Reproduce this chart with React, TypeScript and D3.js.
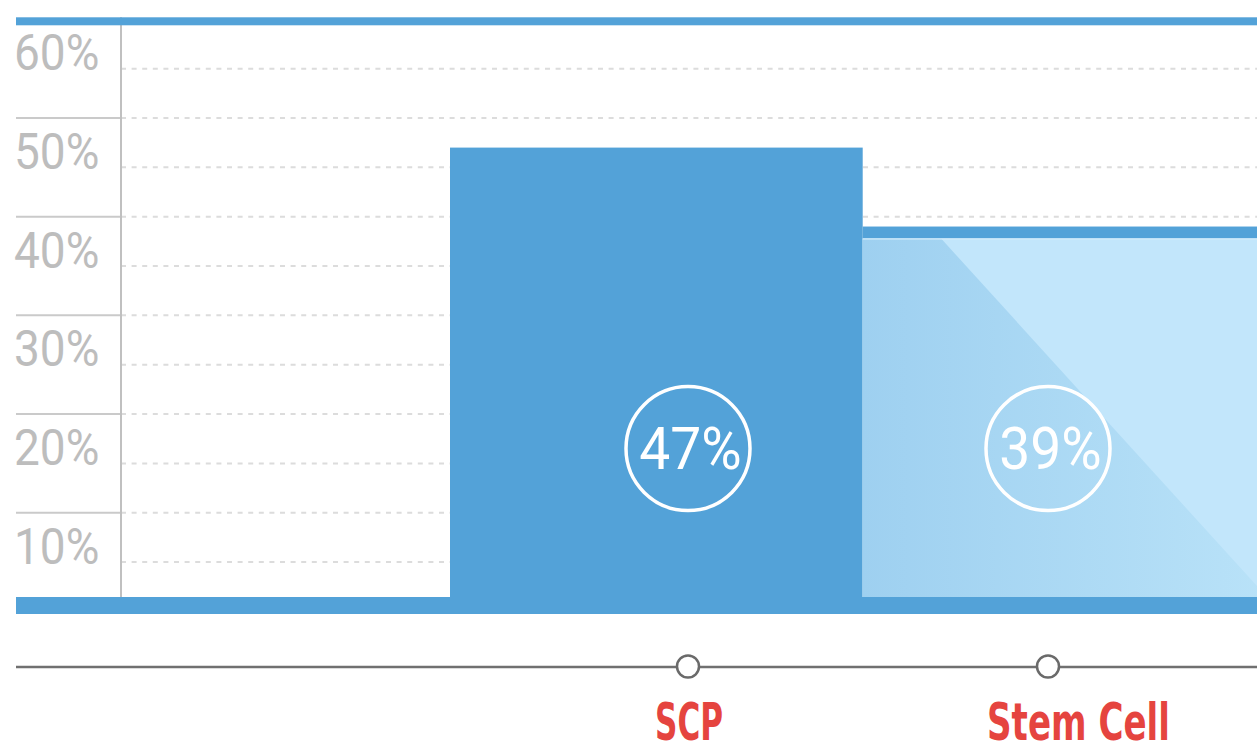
import React from 'react';
import * as d3 from 'd3';

const categories = ['SCP', 'Stem Cell'];
const values = [47, 39];
const valueLabels = ['47%', '39%'];
const highlighted = 'SCP';
const axisTicks = [10, 20, 30, 40, 50, 60];
const axisTickLabels = ['10%', '20%', '30%', '40%', '50%', '60%'];
const dashedLevels = [5, 10, 15, 20, 25, 30, 35, 40, 45, 50, 55];
const badgeLevel = 16.5;

const W = 1257;
const H = 752;
const BLUE = '#53a2d8';
const LIGHT = '#c2e6fb';
// condensed-font fitting widths for the category labels (style only)
const LABEL_WIDTH: Record<string, number> = { SCP: 68, 'Stem Cell': 183 };

export default function App() {
  const y = d3.scaleLinear().domain([0, 60]).range([611.4, 19.3]);
  const xBar = d3.scaleBand<string>().domain(categories).range([450, 450 + 412.7 * categories.length]).padding(0);
  const xMark = d3.scalePoint<string>().domain(categories).range([688, 1048]);
  const xText = d3.scalePoint<string>().domain(categories).range([689, 1078.5]);

  const left = 16;
  const axisX = 121;
  const bandTop = y(0) - 14.4;
  const bandBottom = y(0) + 2.6;
  const bw = xBar.bandwidth();
  const topBandY = y(60) - 2;
  const timelineY = 667;

  return (
    <svg width={W} height={H} style={{ position: 'fixed', left: 0, top: 0, background: '#fff' }}>
      <defs>
        <linearGradient id="shadowGrad" x1="0" x2="1" y1="0" y2="0">
          <stop offset="0" stopColor="#9ed0f0" />
          <stop offset="1" stopColor="#b9e2f8" />
        </linearGradient>
      </defs>

      {dashedLevels.map((v) => (
        <line key={'d' + v} x1={axisX} x2={W} y1={y(v)} y2={y(v)} stroke="#dcdcdc" strokeWidth={2} strokeDasharray="5,5.6" />
      ))}

      {axisTicks.filter((v) => v < 60).map((v) => (
        <line key={'s' + v} x1={left} x2={axisX} y1={y(v)} y2={y(v)} stroke="#cacaca" strokeWidth={2} />
      ))}

      <line x1={axisX} x2={axisX} y1={topBandY} y2={bandTop} stroke="#c0c0c0" strokeWidth={2} />

      {axisTicks.map((v, i) => (
        <text
          key={'t' + v}
          transform={`translate(${left - 2},${y(v - 5) + 1.8}) scale(0.92,1)`}
          fontFamily="Roboto, 'Noto Sans', sans-serif"
          fontSize={50}
          fill="#bdbdbd"
        >
          {axisTickLabels[i]}
        </text>
      ))}

      {categories.map((c, i) => {
        const x0 = xBar(c)!;
        const top = y(values[i]);
        if (c === highlighted) {
          return <rect key={c} x={x0} y={top} width={bw} height={bandBottom - top} fill={BLUE} />;
        }
        const strip = 12;
        const lt = top + strip;
        const off = bw * 0.19;
        const slope = 1.1;
        const pts = [
          [x0, lt],
          [x0 + off, lt],
          [x0 + off + (bandTop - lt) / slope, bandTop],
          [x0, bandTop],
        ];
        return (
          <g key={c}>
            <rect x={x0} y={top} width={bw} height={strip} fill={BLUE} />
            <rect x={x0} y={lt} width={bw} height={bandTop - lt} fill={LIGHT} />
            <polygon points={pts.map((p) => p.join(',')).join(' ')} fill="url(#shadowGrad)" />
            <line x1={x0} x2={x0 + bw} y1={lt + 0.5} y2={lt + 0.5} stroke="#d6eefc" strokeWidth={1} />
          </g>
        );
      })}

      <rect x={left} y={topBandY} width={W - left} height={8} fill={BLUE} />
      <rect x={left} y={bandTop} width={W - left} height={bandBottom - bandTop} fill={BLUE} />

      {categories.map((c, i) => (
        <g key={'b' + c}>
          <circle cx={xMark(c)!} cy={y(badgeLevel)} r={62} fill="none" stroke="#fff" strokeWidth={3.5} />
          <text
            transform={`translate(${xMark(c)! + 2.5},${y(badgeLevel) + 20}) scale(0.92,1)`}
            textAnchor="middle"
            fontFamily="Roboto, 'Noto Sans', sans-serif"
            fontSize={60}
            fill="#fff"
          >
            {valueLabels[i]}
          </text>
        </g>
      ))}

      <line x1={left} x2={W} y1={timelineY} y2={timelineY} stroke="#707070" strokeWidth={2.5} />
      {categories.map((c) => (
        <circle key={'m' + c} cx={xMark(c)!} cy={timelineY - 0.5} r={11} fill="#fff" stroke="#6a6a6a" strokeWidth={2.5} />
      ))}
      {categories.map((c) => (
        <text
          key={'l' + c}
          x={xText(c)! - LABEL_WIDTH[c] / 2}
          y={740}
          textLength={LABEL_WIDTH[c]}
          lengthAdjust="spacingAndGlyphs"
          fontFamily="'DejaVu Sans Condensed', 'Liberation Sans Narrow', 'Liberation Sans', sans-serif"
          fontWeight="bold"
          fontSize={51}
          fill="#e5443f"
        >
          {c}
        </text>
      ))}
    </svg>
  );
}
